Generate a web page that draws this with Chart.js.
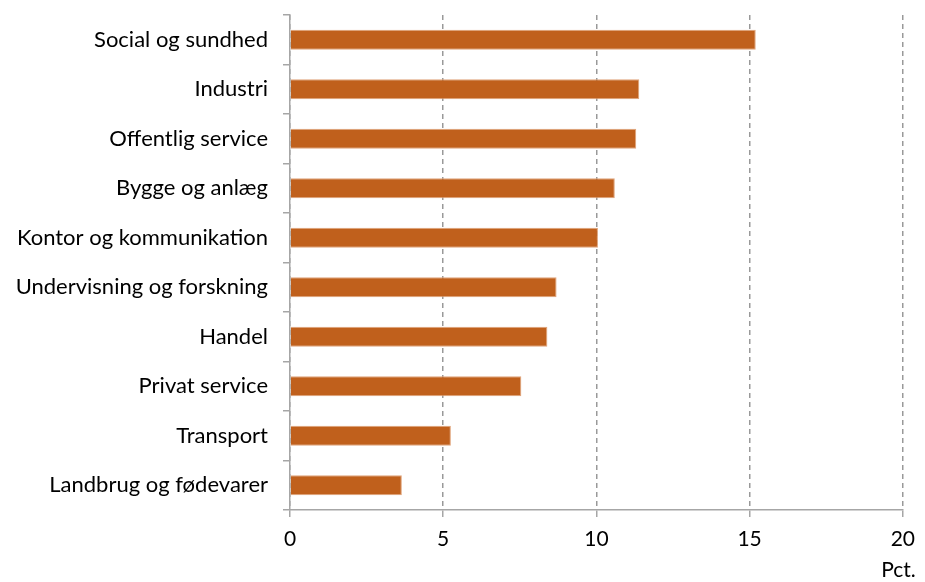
<!DOCTYPE html>
<html>
<head>
<meta charset="utf-8">
<script src="https://cdn.jsdelivr.net/npm/chart.js@4/dist/chart.umd.min.js"></script>
<style>
html,body{margin:0;padding:0;background:#fff;}
#wrap{width:925px;height:582px;position:relative;}
</style>
</head>
<body>
<div id="wrap"><canvas id="c"></canvas></div>
<script>
const categories = ["Social og sundhed","Industri","Offentlig service","Bygge og anlæg","Kontor og kommunikation","Undervisning og forskning","Handel","Privat service","Transport","Landbrug og fødevarer"];
const values = [15.2, 11.4, 11.3, 10.6, 10.05, 8.7, 8.4, 7.55, 5.25, 3.65];
const xTicks = [0, 5, 10, 15, 20];
const unitLabel = "Pct.";

const FONT = "Lato";
const GRAY = "#a6a6a6";

const unitPlugin = {
  id: 'unitLabel',
  afterDraw(chart) {
    const ctx = chart.ctx;
    const xs = chart.scales.x;
    ctx.save();
    ctx.font = "21px " + FONT;
    ctx.fillStyle = "#000";
    ctx.textAlign = "right";
    ctx.textBaseline = "middle";
    ctx.fillText(unitLabel, xs.right + 13, 570);
    ctx.restore();
  }
};

new Chart(document.getElementById('c'), {
  type: 'bar',
  data: {
    labels: categories,
    datasets: [{
      data: values,
      backgroundColor: '#c0601c',
      borderColor: '#e0a47a',
      borderWidth: 1,
      barPercentage: 0.8,
      categoryPercentage: 0.51
    }]
  },
  plugins: [unitPlugin],
  options: {
    indexAxis: 'y',
    responsive: true,
    maintainAspectRatio: false,
    animation: false,
    layout: { padding: { top: 15, right: 21, left: 0, bottom: 0 } },
    plugins: { legend: { display: false }, tooltip: { enabled: false } },
    scales: {
      x: {
        min: 0, max: 20,
        afterBuildTicks(scale) { scale.ticks = xTicks.map(v => ({ value: v })); },
        afterFit(scale) { scale.height = 72; },
        ticks: { font: { family: FONT, size: 21 }, color: '#000', padding: 10, maxRotation: 0 },
        grid: {
          color: '#999999', lineWidth: 1.5,
          drawTicks: true, tickLength: 7, tickColor: GRAY, tickBorderDash: [], tickWidth: 1.5
        },
        border: { display: true, color: GRAY, width: 1.5, dash: [5, 4] }
      },
      y: {
        afterFit(scale) { scale.width = 290; scale.paddingTop = 0; scale.paddingBottom = 0; },
        ticks: { font: { family: FONT, size: 22 }, color: '#000', padding: 15 },
        grid: { offset: true, drawOnChartArea: false, drawTicks: true, tickLength: 7, color: GRAY, lineWidth: 1.5 },
        border: { display: true, color: GRAY, width: 1.5 }
      }
    }
  }
});
</script>
</body>
</html>
